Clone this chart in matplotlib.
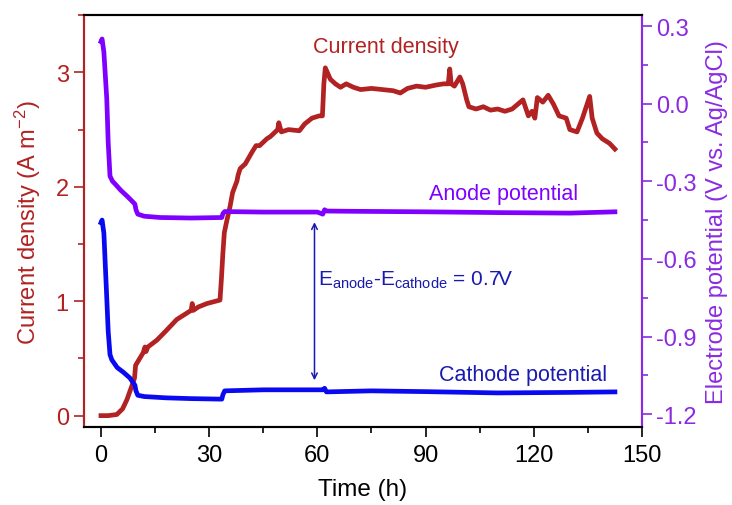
import matplotlib.pyplot as plt
from matplotlib.ticker import MultipleLocator

plt.rcParams['font.family'] = ['Liberation Sans', 'DejaVu Sans']
plt.rcParams['mathtext.fontset'] = 'custom'
plt.rcParams['mathtext.rm'] = 'Liberation Sans'
plt.rcParams['mathtext.it'] = 'Liberation Sans:italic'

# current density (A m-2) vs time (h)
t_cd = [0, 2, 4.4, 6, 7.2, 8.9, 9.3, 9.6, 11.7, 12.2, 12.5, 13, 15.5, 18, 21, 23, 25, 25.3,
        25.6, 27, 29.4, 33, 33.4, 33.8, 34.2, 35, 35.8, 36.5, 37.7, 38.0, 38.6, 40, 42, 43,
        44, 46, 47, 49, 49.3, 50, 52, 55, 56.5, 58.5, 60.5, 61.4, 61.8, 62.2, 63.6, 65,
        66.4, 68, 70, 72, 75, 78, 81, 83, 85, 87.5, 90, 93, 95, 96.3, 96.7, 97.1, 98, 99.5,
        100.3, 101.4, 102, 104, 106, 108, 110, 112, 114, 115.5, 117, 118.5, 119.5, 120.3,
        121, 122.5, 124, 125.5, 127, 129, 130, 132, 133.5, 135.5, 136.2, 137.5, 139, 141,
        142.5]
cd = [0.0, 0.0, 0.01, 0.06, 0.14, 0.29, 0.33, 0.44, 0.55, 0.6, 0.56, 0.6, 0.66, 0.74, 0.84,
      0.88, 0.92, 0.98, 0.92, 0.95, 0.98, 1.01, 1.2, 1.42, 1.6, 1.72, 1.83, 1.95, 2.05, 2.1,
      2.16, 2.2, 2.31, 2.36, 2.36, 2.42, 2.44, 2.5, 2.56, 2.48, 2.5, 2.49, 2.55, 2.6, 2.62,
      2.62, 2.9, 3.04, 2.94, 2.9, 2.87, 2.9, 2.87, 2.85, 2.86, 2.85, 2.84, 2.82, 2.86, 2.88,
      2.87, 2.89, 2.9, 2.9, 3.03, 2.9, 2.88, 2.96, 2.9, 2.76, 2.7, 2.68, 2.7, 2.67, 2.68,
      2.66, 2.68, 2.72, 2.76, 2.62, 2.66, 2.6, 2.78, 2.74, 2.8, 2.72, 2.62, 2.6, 2.5, 2.48,
      2.6, 2.79, 2.6, 2.47, 2.42, 2.38, 2.33]

# anode potential (V vs Ag/AgCl)
t_an = [0, 0.3, 0.8, 1.6, 2.0, 2.5, 3.2, 3.9, 5.5, 7.2, 8.5, 9.4, 9.7, 10.2, 12, 16.4, 25,
        33.5, 33.8, 34.3, 45, 60, 61.5, 62, 62.5, 70, 90, 110, 130, 142.5]
e_an = [0.24, 0.25, 0.2, 0.02, -0.15, -0.28, -0.3, -0.31, -0.335, -0.357, -0.375, -0.388,
        -0.41, -0.427, -0.435, -0.44, -0.442, -0.44, -0.425, -0.417, -0.419, -0.419, -0.427,
        -0.41, -0.415, -0.416, -0.418, -0.421, -0.423, -0.418]

# cathode potential (V vs Ag/AgCl)
t_ca = [0, 0.3, 0.8, 1.6, 2.0, 2.5, 3.0, 4.5, 6.2, 8, 9.4, 9.7, 10.2, 12, 18, 25, 33.5, 33.8,
        34.3, 45, 60, 61.5, 62, 62.5, 75, 90, 110, 130, 142.5]
e_ca = [-0.46, -0.45, -0.5, -0.75, -0.88, -0.97, -0.99, -1.02, -1.038, -1.06, -1.088, -1.11,
        -1.127, -1.132, -1.137, -1.14, -1.142, -1.125, -1.11, -1.106, -1.106, -1.106, -1.1,
        -1.114, -1.11, -1.113, -1.118, -1.116, -1.114]

red = '#b22222'
purple = '#8a2be2'
violet = '#8000ff'
blue = '#0a0af0'
dblue = '#1a1ab0'

fig = plt.figure(figsize=(7.32, 5.06), dpi=100)
ax = fig.add_axes([0.1148, 0.154, 0.7622, 0.814])
ax2 = ax.twinx()

ax.plot(t_cd, cd, color=red, lw=3.4, solid_joinstyle='round')
ax2.plot(t_an, e_an, color=violet, lw=3.4, solid_joinstyle='round')
ax2.plot(t_ca, e_ca, color=blue, lw=3.4, solid_joinstyle='round')

ax.set_xlim(-4.7, 150)
ax.set_ylim(-0.1, 3.5)
ax2.set_ylim(-1.25, 0.342)

ax.xaxis.set_major_locator(MultipleLocator(30))
ax.xaxis.set_minor_locator(MultipleLocator(15))
ax.yaxis.set_major_locator(MultipleLocator(1))
ax.yaxis.set_minor_locator(MultipleLocator(0.5))
ax2.yaxis.set_minor_locator(MultipleLocator(0.15))
ax2.set_yticks([-1.2, -0.9, -0.6, -0.3, 0.0, 0.3])
ax2.set_yticklabels(['-1.2', '-0.9', '-0.6', '-0.3', '0.0', '0.3'])

ax.tick_params(axis='x', which='both', direction='out', labelsize=17, colors='black', pad=5)
ax.tick_params(axis='x', which='major', length=7, width=1.2)
ax.tick_params(axis='x', which='minor', length=4, width=1.2)
ax.tick_params(axis='y', which='both', direction='out', colors=red, labelsize=17, pad=4)
ax.tick_params(axis='y', which='major', length=7, width=1.2)
ax.tick_params(axis='y', which='minor', length=4, width=1.2)
ax2.tick_params(axis='y', which='both', direction='out', colors=purple, labelsize=17, pad=3)
ax2.tick_params(axis='y', which='major', length=7, width=1.2)
ax2.tick_params(axis='y', which='minor', length=4, width=1.2)

for a in (ax, ax2):
    for s in a.spines.values():
        s.set_linewidth(1.5)
ax2.spines['left'].set_color(red)
ax.spines['left'].set_color(red)
ax2.spines['right'].set_color(purple)
ax.spines['right'].set_color(purple)

ax.set_xlabel('Time (h)', fontsize=17.5, labelpad=9)
ax.set_ylabel('Current density (A m$^{-2}$)', fontsize=17, color=red, labelpad=9)
ax2.set_ylabel('Electrode potential (V vs. Ag/AgCl)', fontsize=17, color=purple, labelpad=7)

ax.text(78.9, 3.23, 'Current density', color=red, fontsize=15.5, ha='center', va='center')
ax2.text(111.7, -0.346, 'Anode potential', color=violet, fontsize=15.5, ha='center', va='center')
ax2.text(117, -1.045, 'Cathode potential', color=dblue, fontsize=15.5, ha='center', va='center')
ax2.text(60.3, -0.678, r'E$_{\mathregular{anode}}$-E$_{\mathregular{cathode}}$ = 0.7V',
         color=dblue, fontsize=15, ha='left', va='center')
ax2.annotate('', xy=(59.2, -1.069), xytext=(59.2, -0.458),
             arrowprops=dict(arrowstyle='<->', color=dblue, lw=1.1,
                             shrinkA=0, shrinkB=0, mutation_scale=10))

fig.savefig('out.png', dpi=100)
